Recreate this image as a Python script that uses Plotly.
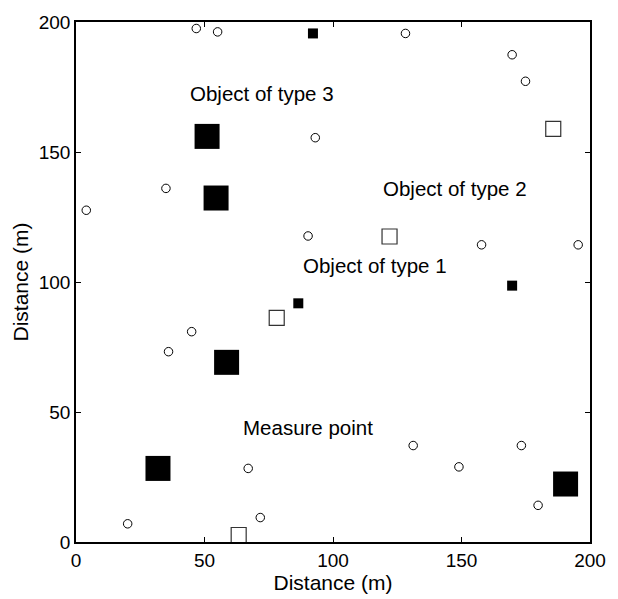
import plotly.graph_objects as go

# Measure points (open circles)
circle_x = [46.8, 55.1, 128.2, 169.7, 174.9, 93.1, 35.0, 4.0, 90.3, 157.8, 195.4,
            45.0, 36.0, 67.0, 20.1, 71.7, 131.2, 173.3, 149.0, 179.8]
circle_y = [197.5, 196.2, 195.6, 187.4, 177.2, 155.5, 136.0, 127.6, 117.7, 114.3, 114.3,
            80.9, 73.2, 28.3, 7.0, 9.4, 37.1, 37.1, 28.9, 14.1]

# Objects of type 1 (small filled squares)
t1_x = [92.2, 169.7, 86.5]
t1_y = [195.6, 98.6, 91.8]

# Objects of type 2 (open squares)
t2_x = [185.7, 122.0, 78.1, 63.3]
t2_y = [158.9, 117.5, 86.2, 2.7]

# Objects of type 3 (large filled squares)
t3_x = [51.0, 54.5, 58.6, 31.9, 190.5]
t3_y = [156.0, 132.3, 69.1, 28.3, 22.3]

# Labels
label_text = ["Object of type 3", "Object of type 2", "Object of type 1", "Measure point"]
label_x = [43.7, 118.5, 87.6, 64.3]
label_y = [172.4, 136.1, 106.3, 44.0]

tick_vals = [0, 50, 100, 150, 200]

fig = go.Figure()
fig.add_trace(go.Scatter(x=circle_x, y=circle_y, mode="markers", cliponaxis=False,
                         marker=dict(symbol="circle", size=8.5, color="white",
                                     line=dict(color="black", width=1))))
fig.add_trace(go.Scatter(x=t2_x, y=t2_y, mode="markers", cliponaxis=False,
                         marker=dict(symbol="square", size=15, color="white",
                                     line=dict(color="#333333", width=1.2))))
fig.add_trace(go.Scatter(x=t1_x, y=t1_y, mode="markers", cliponaxis=False,
                         marker=dict(symbol="square", size=10, color="black",
                                     line=dict(width=0))))
fig.add_trace(go.Scatter(x=t3_x, y=t3_y, mode="markers", cliponaxis=False,
                         marker=dict(symbol="square", size=25, color="black",
                                     line=dict(width=0))))

for t, x, y in zip(label_text, label_x, label_y):
    fig.add_annotation(x=x, y=y, text=t, showarrow=False, xanchor="left", yanchor="middle",
                       font=dict(size=20.5, color="black"))

axis_common = dict(range=[0, 200], tickvals=tick_vals, ticktext=[str(v) for v in tick_vals],
                   showline=True, linecolor="black", linewidth=1.5, mirror="ticks",
                   ticks="inside", ticklen=5, tickwidth=1, tickcolor="black",
                   showgrid=False, zeroline=False,
                   tickfont=dict(size=19, color="black"))

fig.update_xaxes(**axis_common, title=dict(text="Distance (m)", font=dict(size=21, color="black"), standoff=2))
fig.update_yaxes(**axis_common, title=dict(text="Distance (m)", font=dict(size=21, color="black"), standoff=4))

fig.update_layout(width=618, height=599, showlegend=False,
                  margin=dict(l=76, r=17, t=15, b=57),
                  plot_bgcolor="white", paper_bgcolor="white",
                  font=dict(family="Liberation Sans, Arial, sans-serif", color="black"))

fig.write_html("out.html")
